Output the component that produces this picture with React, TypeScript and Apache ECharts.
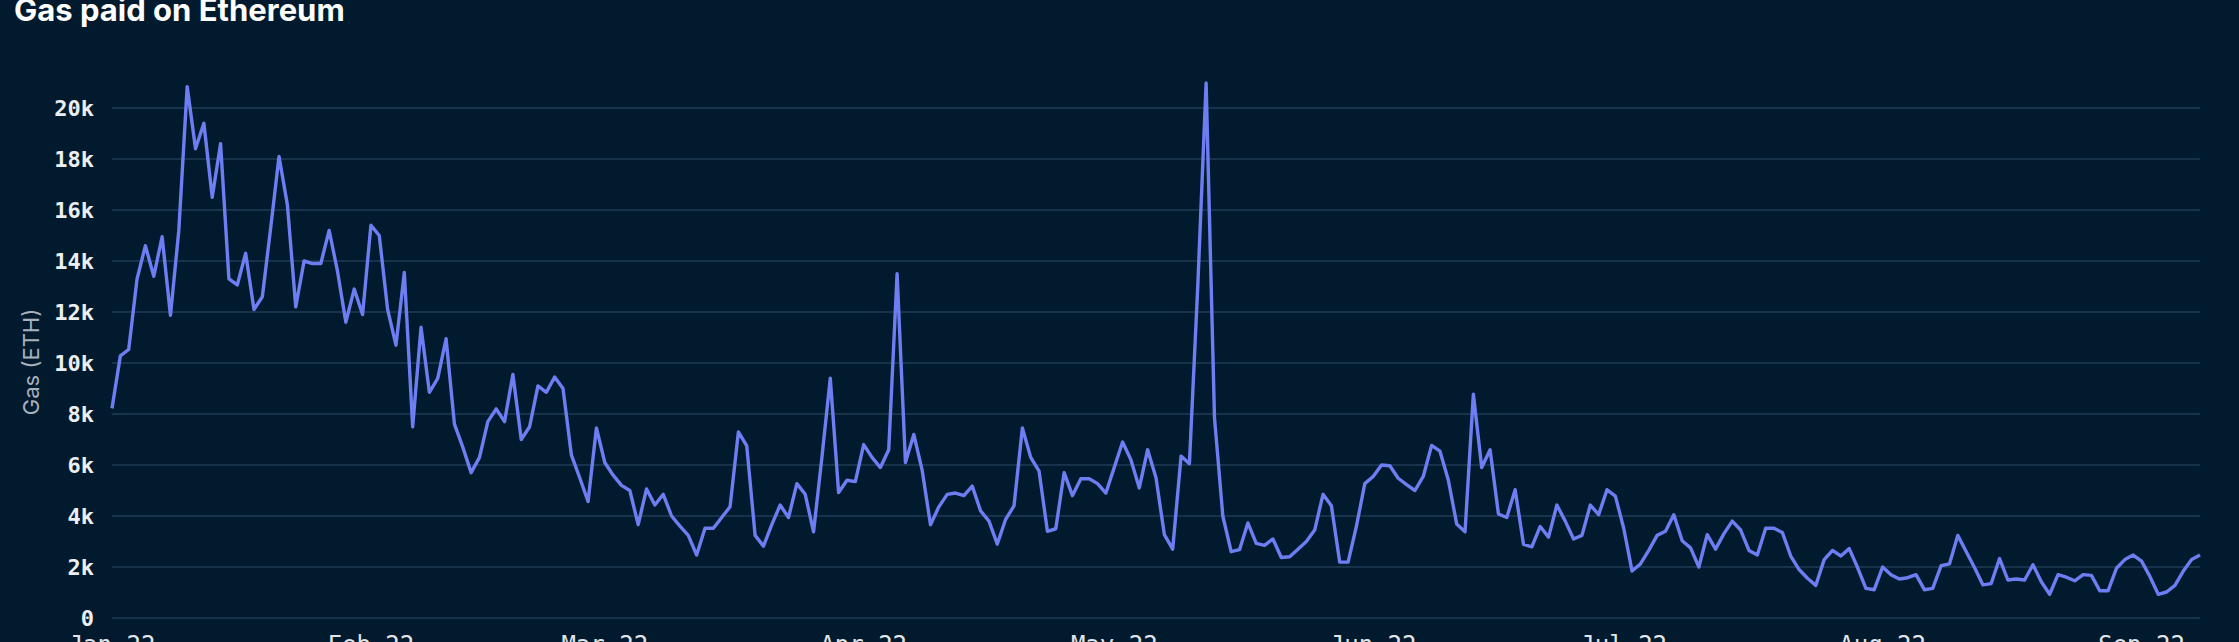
import React, { useEffect, useRef } from "react";
import * as echarts from "echarts";

const TITLE = "Gas paid on Ethereum";
const Y_NAME = "Gas (ETH)";
const MONTH_NAMES = ["Jan", "Feb", "Mar", "Apr", "May", "Jun", "Jul", "Aug", "Sep", "Oct", "Nov", "Dec"];

// Daily gas paid (ETH), 2022, one array per month
const jan = [8220, 10280, 10530, 13300, 14600, 13400, 14950, 11870, 15200, 20840, 18400, 19400, 16500, 18600, 13300, 13060, 14300, 12100, 12600, 15300, 18100, 16200, 12200, 14000, 13900, 13900, 15200, 13600, 11600, 12900, 11900];
const feb = [15400, 15000, 12100, 10700, 13550, 7500, 11400, 8850, 9400, 10950, 7600, 6700, 5700, 6300, 7700, 8200, 7700, 9550, 7000, 7500, 9100, 8850, 9450, 9000, 6400, 5500, 4570, 7450];
const mar = [6100, 5600, 5200, 5000, 3660, 5060, 4430, 4850, 4000, 3600, 3240, 2470, 3520, 3520, 3940, 4360, 7300, 6750, 3240, 2820, 3660, 4430, 3940, 5270, 4850, 3380, 6300, 9400, 4920, 5400, 5350];
const apr = [6800, 6300, 5900, 6600, 13500, 6100, 7200, 5800, 3660, 4360, 4850, 4900, 4800, 5170, 4200, 3800, 2900, 3870, 4400, 7450, 6300, 5760, 3400, 3500, 5700, 4800, 5460, 5460, 5270, 4900];
const may = [5900, 6900, 6200, 5100, 6600, 5500, 3270, 2700, 6350, 6050, 13000, 20980, 7870, 4000, 2600, 2680, 3730, 2930, 2850, 3100, 2370, 2400, 2700, 3000, 3450, 4850, 4400, 2190, 2190, 3600, 5270];
const jun = [5550, 6000, 5970, 5480, 5230, 5000, 5550, 6770, 6540, 5410, 3690, 3380, 8780, 5900, 6600, 4080, 3940, 5030, 2890, 2790, 3590, 3170, 4430, 3800, 3100, 3240, 4430, 4050, 5030, 4780];
const jul = [3520, 1840, 2120, 2650, 3240, 3400, 4050, 3030, 2750, 2000, 3270, 2700, 3310, 3800, 3450, 2650, 2470, 3520, 3520, 3350, 2430, 1900, 1560, 1280, 2290, 2650, 2430, 2720, 1980, 1160, 1110];
const aug = [2000, 1700, 1530, 1580, 1700, 1110, 1160, 2050, 2120, 3240, 2610, 1980, 1300, 1350, 2330, 1490, 1530, 1490, 2090, 1420, 930, 1700, 1600, 1460, 1700, 1670, 1070, 1070, 1950, 2290, 2470];
const sep = [2230, 1630, 930, 1020, 1280, 1840, 2290, 2470];

const MONTHS = [jan, feb, mar, apr, may, jun, jul, aug, sep];

const categories: string[] = [];
const values: number[] = [];
MONTHS.forEach((arr, m) => {
  arr.forEach((v, d) => {
    categories.push(`2022-${String(m + 1).padStart(2, "0")}-${String(d + 1).padStart(2, "0")}`);
    values.push(v);
  });
});

export default function App() {
  const ref = useRef<HTMLDivElement>(null);
  useEffect(() => {
    if (!ref.current) return;
    const chart = echarts.init(ref.current, undefined, { renderer: "svg" });
    const gridColor = "#17334c";
    chart.setOption({
      animation: false,
      backgroundColor: "#011a2d",
      title: {
        text: TITLE,
        left: 9,
        top: -11,
        textStyle: { color: "#ffffff", fontSize: 31, fontWeight: "bold", fontFamily: "Inter" },
      },
      graphic: [
        {
          type: "text",
          x: 31,
          y: 362,
          rotation: Math.PI / 2,
          style: {
            text: Y_NAME,
            fill: "#a7b0bb",
            fontSize: 22,
            fontFamily: "Inter",
            align: "center",
            verticalAlign: "middle",
          },
        },
      ],
      grid: {
        left: 112,
        right: 39,
        top: 108,
        bottom: 24,
        containLabel: false,
        outerBoundsMode: "none",
      },
      xAxis: {
        type: "category",
        data: categories,
        boundaryGap: false,
        axisLine: { show: false },
        axisTick: { show: false },
        splitLine: { show: false },
        axisLabel: {
          interval: (_i: number, v: string) => v.endsWith("-01"),
          formatter: (v: string) => `${MONTH_NAMES[parseInt(v.slice(5, 7), 10) - 1]} 22`,
          color: "#e2e5e9",
          fontFamily: "DejaVu Sans Mono",
          fontSize: 24,
          margin: 15,
          hideOverlap: false,
        },
      },
      yAxis: {
        type: "value",
        min: 0,
        max: 20000,
        interval: 2000,
        axisLine: { show: false },
        axisTick: { show: false },
        splitLine: { show: true, lineStyle: { color: gridColor, width: 2 } },
        axisLabel: {
          formatter: (v: number) => (v === 0 ? "0" : `${v / 1000}k`),
          color: "#eceff2",
          fontFamily: "DejaVu Sans Mono",
          fontWeight: "bold",
          fontSize: 22,
          margin: 18,
        },
      },
      series: [
        {
          type: "line",
          data: values,
          clip: false,
          showSymbol: false,
          symbol: "none",
          lineStyle: { color: "#6c7ef2", width: 3.4, join: "round" },
        },
      ],
    });
    return () => chart.dispose();
  }, []);
  return (
    <div
      ref={ref}
      style={{ position: "absolute", left: 0, top: 0, width: 2239, height: 642 }}
    />
  );
}
